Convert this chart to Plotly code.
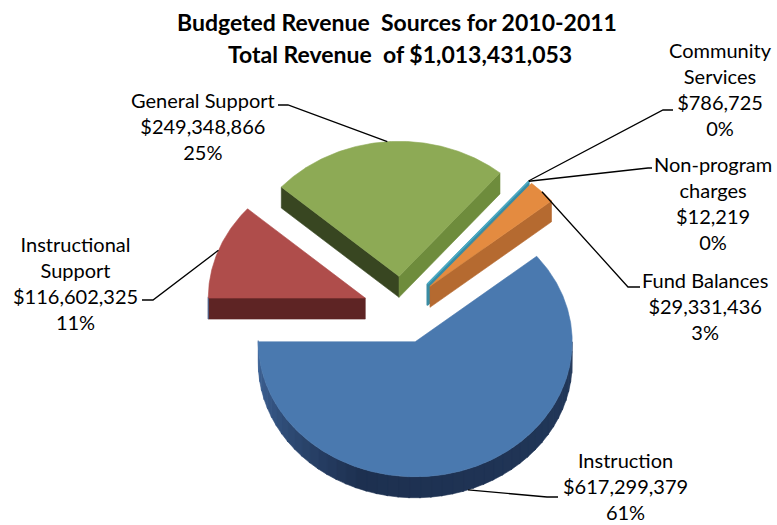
import numpy as np
import plotly.graph_objects as go

# ---- data -------------------------------------------------------------
categories = ["Instruction", "Instructional Support", "General Support",
              "Community Services", "Non-program charges", "Fund Balances"]
amounts = [617299379, 116602325, 249348866, 786725, 12219, 29331436]
pct_labels = ["61%", "11%", "25%", "0%", "0%", "3%"]
label_names = ["Instruction", "Instructional<br>Support", "General Support",
               "Community<br>Services", "Non-program<br>charges", "Fund Balances"]
title_lines = ["Budgeted Revenue\u00a0 Sources for 2010-2011",
               "Total Revenue\u00a0 of $1,013,431,053"]

# ---- styling ----------------------------------------------------------
top_colors = ["#4A79AF", "#AF4D4B", "#8DAA55", "#4BACC6", "#8064A2", "#E48B40"]
start_face = ["#2A4670", "#5E2424", "#384621", "#2F7F93", "#5E4A7A", "#B56A30"]
end_face = ["#2A4670", "#5E2424", "#6E8C3C", "#3A8CA3", "#5E4A7A", "#B56A30"]
edge_width = [0.6, 0.6, 0.6, 1.6, 0.0, 0.6]
draw_order = [2, 1, 4, 3, 5, 0]          # back to front

W, H = 777, 525
CX, CY = 402, 310          # pie centre in pixels
RX, RY = 157, 135          # projected radii of the tilted pie
DEPTH = 21 / RY            # thickness of the pie, in y units
PULL = 0.25                # explode distance (fraction of radius)
START = 50.7               # first slice angle, degrees clockwise from 12 o'clock
FONT = "Lato"

# label placement: (centre x, centre y) of each text block and leader stub (px)
label_pos = [(625, 486), (75, 283), (203, 126), (720, 89), (713, 203), (705, 306)]
stub = [((558, 497), (547, 497)), ((142, 300), (153, 300)), ((278, 105), (288, 105)),
        ((673, 110), (663, 110)), ((652, 168), (648, 168)), ((640, 287), (628, 287))]
title_pos = [(397, 22), (400, 54)]


def px_to_data(p):
    return (p[0] - CX) / RX, (CY - p[1]) / RY


def rim(theta, ox, oy, dz=0.0):
    t = np.radians(theta)
    return ox + np.sin(t), oy + np.cos(t) - dz


def arc(t1, t2, ox, oy, dz=0.0, step=1.0):
    n = max(2, int(abs(t2 - t1) / step) + 2)
    t = np.radians(np.linspace(t1, t2, n))
    return ox + np.sin(t), oy + np.cos(t) - dz


def poly(xs, ys, color, width=0.6):
    return go.Scatter(x=list(xs), y=list(ys), mode="lines", fill="toself",
                      fillcolor=color, line=dict(color=color, width=width),
                      hoverinfo="skip", showlegend=False)


def mix(c1, c2, f):
    a = [int(c1[i:i + 2], 16) for i in (1, 3, 5)]
    b = [int(c2[i:i + 2], 16) for i in (1, 3, 5)]
    return "#" + "".join(f"{round(x + (y - x) * f):02X}" for x, y in zip(a, b))


total = float(sum(amounts))
spans = [v / total * 360.0 for v in amounts]
bounds = []
acc = START
for s in spans:
    bounds.append((acc, acc + s))
    acc += s

offsets = []
for t1, t2 in bounds:
    mid = np.radians((t1 + t2) / 2)
    offsets.append((PULL * np.sin(mid), PULL * np.cos(mid)))

fig = go.Figure()

for i in draw_order:
    t1, t2 = bounds[i]
    ox, oy = offsets[i]
    lw = edge_width[i]
    # radial cut faces that face the viewer
    for ang, normal, col in ((t1, t1 - 90, start_face[i]), (t2, t2 + 90, end_face[i])):
        if np.cos(np.radians(normal)) < -0.05:
            rx, ry = rim(ang, ox, oy)
            bx, by = rim(ang, ox, oy, DEPTH)
            fig.add_trace(poly([ox, rx, bx, ox, ox], [oy, ry, by, oy - DEPTH, oy], col, lw))
    # curved outer wall on the front half
    lo = max(t1, 90.0)
    hi = min(t2, 270.0)
    if hi > lo:
        edges = np.arange(lo, hi, 4.0).tolist() + [hi]
        for a1, a2 in zip(edges[:-1], edges[1:]):
            m = (a1 + a2) / 2
            if m > 200:
                col = mix("#1D3050", "#40669A", (m - 200) / 70)
            else:
                col = mix("#22385A", "#1D3050", (m - 90) / 110)
            xt, yt = arc(a1, a2 + 0.5, ox, oy)
            xb, yb = arc(a2 + 0.5, a1, ox, oy, DEPTH)
            fig.add_trace(poly(np.r_[xt, xb, xt[:1]], np.r_[yt, yb, yt[:1]], col))
    # top face
    xa, ya = arc(t1, t2, ox, oy, step=0.5)
    fig.add_trace(poly(np.r_[ox, xa, ox], np.r_[oy, ya, oy], top_colors[i], lw))

# leader lines and data labels
annotations = []
for i, name in enumerate(categories):
    t1, t2 = bounds[i]
    ox, oy = offsets[i]
    mid = (t1 + t2) / 2
    front = 90 < (mid % 360) < 270
    ex, ey = rim(mid, ox, oy, DEPTH if front else 0.0)
    (sx, sy), (kx, ky) = px_to_data(stub[i][0]), px_to_data(stub[i][1])
    fig.add_trace(go.Scatter(x=[sx, kx, ex], y=[sy, ky, ey], mode="lines",
                             line=dict(color="#000000", width=1.3),
                             hoverinfo="skip", showlegend=False))
    text = f"{label_names[i]}<br>${amounts[i]:,}<br>{pct_labels[i]}"
    annotations.append(dict(x=label_pos[i][0] / W, y=1 - label_pos[i][1] / H,
                            xref="paper", yref="paper", text=text, showarrow=False,
                            xanchor="center", yanchor="middle", align="center",
                            font=dict(family=FONT, size=20, color="#000000")))

for line, (tx, ty) in zip(title_lines, title_pos):
    annotations.append(dict(x=tx / W, y=1 - ty / H, xref="paper", yref="paper",
                            text=f"<b>{line}</b>", showarrow=False,
                            xanchor="center", yanchor="middle",
                            font=dict(family=FONT, size=23, color="#000000")))

fig.update_layout(
    width=W, height=H, margin=dict(l=0, r=0, t=0, b=0),
    paper_bgcolor="white", plot_bgcolor="white",
    xaxis=dict(range=[(0 - CX) / RX, (W - CX) / RX], visible=False, fixedrange=True),
    yaxis=dict(range=[(CY - H) / RY, CY / RY], visible=False, fixedrange=True),
    annotations=annotations, hovermode=False, showlegend=False,
)

fig.write_html("out.html")
